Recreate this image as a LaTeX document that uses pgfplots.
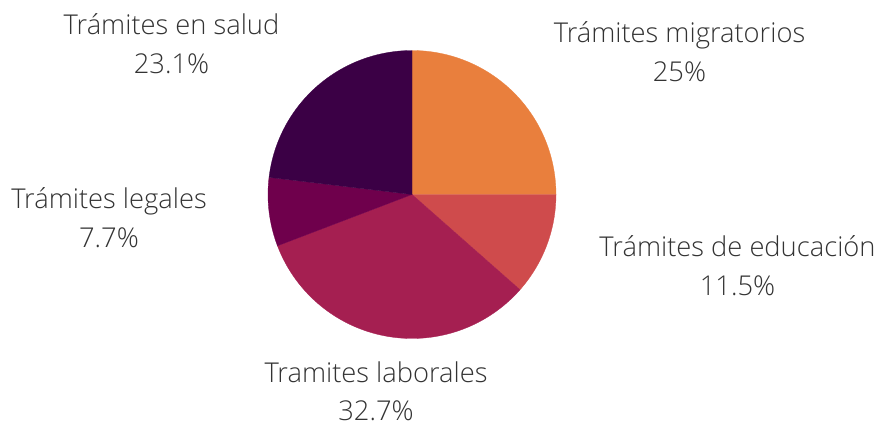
\documentclass[border=0pt]{standalone}
\usepackage{pgfplots}
\pgfplotsset{compat=1.18}
\usepackage{fontspec}
\setmainfont{Open Sans Light}
\definecolor{cMig}{HTML}{E97F3D}
\definecolor{cEdu}{HTML}{CF4B4C}
\definecolor{cLab}{HTML}{A51F51}
\definecolor{cLeg}{HTML}{6F004C}
\definecolor{cSal}{HTML}{3B0045}
\definecolor{txt}{HTML}{333333}
% shares (percent), clockwise from 12 o'clock
\def\pMig{25}\def\pEdu{11.5}\def\pLab{32.7}\def\pLeg{7.7}\def\pSal{23.1}
\pgfmathsetmacro\aA{90}
\pgfmathsetmacro\aB{\aA-3.6*\pMig}
\pgfmathsetmacro\aC{\aB-3.6*\pEdu}
\pgfmathsetmacro\aD{\aC-3.6*\pLab}
\pgfmathsetmacro\aE{\aD-3.6*\pLeg}
\pgfmathsetmacro\aF{\aE-3.6*\pSal}
\def\cx{412}\def\cy{229.5}\def\R{144}
\tikzset{lab/.style={font=\fontsize{27.3}{32}\selectfont, text=txt, inner sep=0pt, anchor=base}}
\begin{document}
\begin{tikzpicture}
\begin{axis}[
  scale only axis, width=877pt, height=424pt,
  xmin=0, xmax=877, ymin=0, ymax=424,
  hide axis, clip=false,
]
\addplot[draw=none, forget plot] coordinates {(0,0) (877,424)};
\addplot[fill=cMig, draw=cMig, line width=0.3pt, domain=\aB:\aA, samples=80, variable=\t]
  ({\cx+\R*cos(\t)}, {\cy+\R*sin(\t)}) -- (axis cs:\cx,\cy) -- cycle;
\addplot[fill=cEdu, draw=cEdu, line width=0.3pt, domain=\aC:\aB, samples=60, variable=\t]
  ({\cx+\R*cos(\t)}, {\cy+\R*sin(\t)}) -- (axis cs:\cx,\cy) -- cycle;
\addplot[fill=cLab, draw=cLab, line width=0.3pt, domain=\aD:\aC, samples=100, variable=\t]
  ({\cx+\R*cos(\t)}, {\cy+\R*sin(\t)}) -- (axis cs:\cx,\cy) -- cycle;
\addplot[fill=cLeg, draw=cLeg, line width=0.3pt, domain=\aE:\aD, samples=40, variable=\t]
  ({\cx+\R*cos(\t)}, {\cy+\R*sin(\t)}) -- (axis cs:\cx,\cy) -- cycle;
\addplot[fill=cSal, draw=cSal, line width=0.3pt, domain=\aF:\aE, samples=80, variable=\t]
  ({\cx+\R*cos(\t)}, {\cy+\R*sin(\t)}) -- (axis cs:\cx,\cy) -- cycle;

\node[lab] at (axis cs:679.5,381) {Trámites migratorios};
\node[lab] at (axis cs:679.5,342) {25\%};
\node[lab] at (axis cs:737.5,168) {Trámites de educación};
\node[lab] at (axis cs:737.5,129) {11.5\%};
\node[lab] at (axis cs:376,42) {Tramites laborales};
\node[lab] at (axis cs:376,4) {32.7\%};
\node[lab] at (axis cs:109,216) {Trámites legales};
\node[lab] at (axis cs:109,177) {7.7\%};
\node[lab] at (axis cs:171.5,389) {Trámites en salud};
\node[lab] at (axis cs:171.5,350) {23.1\%};
\end{axis}
\end{tikzpicture}
\end{document}
